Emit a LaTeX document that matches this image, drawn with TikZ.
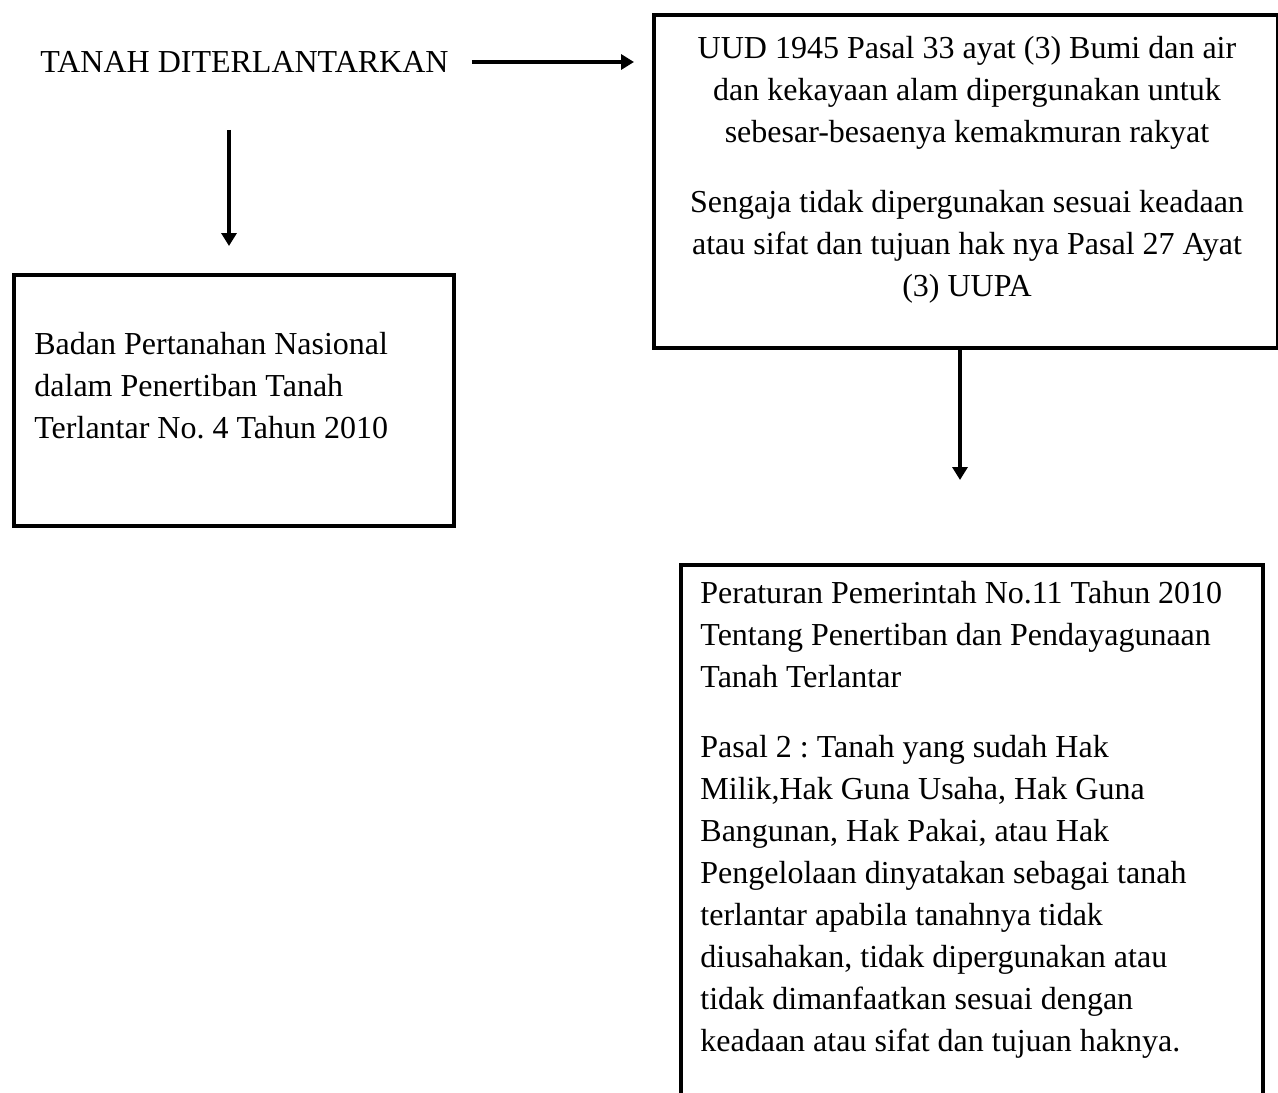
\documentclass[tikz,border=0pt]{standalone}
\usepackage{fontspec}
\setmainfont{Liberation Serif}
\usetikzlibrary{arrows.meta,calc}
\frenchspacing
\begin{document}
\begin{tikzpicture}[x=0.5pt,y=-0.5pt,
  box/.style={draw,line width=2pt,inner sep=0pt,anchor=north west},
  txt/.style={inner sep=0pt,font=\fontsize{16}{21}\selectfont},
  arr/.style={line width=2pt,-{Triangle[width=7.5pt,length=6.5pt]}}]
\clip (0,0) rectangle (1278,1092);
\fill[white] (0,0) rectangle (1278,1092);
% boxes
\node[box,minimum width=220pt,minimum height=125.5pt] (leftbox) at (12,273) {};
\node[box,minimum width=312pt,minimum height=166.5pt] (topbox) at (652,13) {};
\node[box,minimum width=291pt,minimum height=278.5pt] (botbox) at (679,563) {};
% texts
\node[txt,anchor=west] (title) at (40,62) {TANAH DITERLANTARKAN};
\node[txt,anchor=north west,align=left] (lefttext) at (34,332)
  {Badan Pertanahan Nasional\\dalam Penertiban Tanah\\Terlantar No.\ 4 Tahun 2010};
\node[txt,anchor=north,align=center] (toptext) at (967,36)
  {UUD 1945 Pasal 33 ayat (3) Bumi dan air\\dan kekayaan alam dipergunakan untuk\\sebesar-besaenya kemakmuran rakyat\\[14pt]
   Sengaja tidak dipergunakan sesuai keadaan\\atau sifat dan tujuan hak nya Pasal 27 Ayat\\(3) UUPA};
\node[txt,anchor=north west,align=left] (bottext) at (700,581)
  {Peraturan Pemerintah No.11 Tahun 2010\\Tentang Penertiban dan Pendayagunaan\\Tanah Terlantar\\[14pt]
   Pasal 2 : Tanah yang sudah Hak\\Milik,Hak Guna Usaha, Hak Guna\\Bangunan, Hak Pakai, atau Hak\\Pengelolaan dinyatakan sebagai tanah\\terlantar apabila tanahnya tidak\\diusahakan, tidak dipergunakan atau\\tidak dimanfaatkan sesuai dengan\\keadaan atau sifat dan tujuan haknya.};
% connectors
\coordinate (c1) at (229,0);
\coordinate (c2) at (960,0);
\draw[arr,shorten <=28.5pt,shorten >=13.5pt] (title.south -| c1) -- (leftbox.north -| c1);
\draw[arr,shorten <=11.5pt,shorten >=9pt] (title.east) -- (topbox.west |- title.east);
\draw[arr,shorten >=41.5pt] (topbox.south -| c2) -- (botbox.north -| c2);
\end{tikzpicture}
\end{document}
